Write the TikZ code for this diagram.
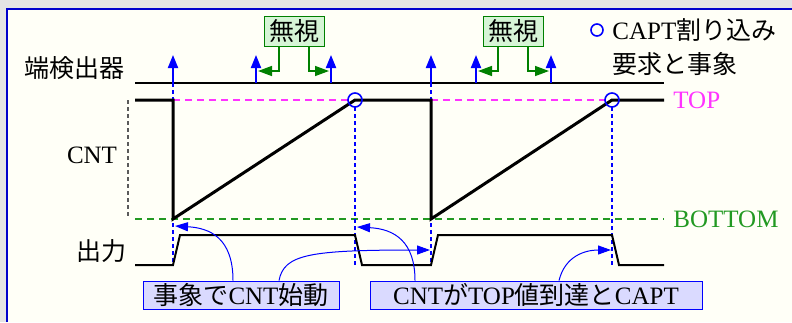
\documentclass[tikz,border=0pt]{standalone}
\usepackage{fontspec}
\setmainfont{Liberation Serif}
\newfontfamily\jp{Noto Sans CJK JP}
\usetikzlibrary{arrows.meta, positioning}
\usepackage{xcolor}
\definecolor{framegray}{RGB}{228,228,228}
\definecolor{panelcream}{RGB}{255,255,247}
\definecolor{frameblue}{RGB}{0,0,204}
\definecolor{edgeblue}{RGB}{0,0,255}
\definecolor{ignoregreen}{RGB}{0,128,0}
\definecolor{ignorefill}{RGB}{214,245,214}
\definecolor{topmagenta}{RGB}{255,51,255}
\definecolor{bottomgreen}{RGB}{34,153,34}
\definecolor{notefill}{RGB}{218,218,255}
\definecolor{axisgray}{RGB}{90,90,90}

\begin{document}
\begin{tikzpicture}[x=0.5pt, y=-0.5pt, font=\fontsize{12.5}{15}\selectfont,
    edgearrow/.style={edgeblue, line width=1pt, -{Triangle[length=6.5pt, width=5pt]}},
    ignorearrow/.style={ignoregreen, line width=0.75pt, -{Triangle[length=7pt, width=5pt]}},
    notearrow/.style={edgeblue, line width=0.5pt, -{Triangle[length=6.5pt, width=4.5pt]}},
    marker/.style={edgeblue, line width=0.6pt, dash pattern=on 2pt off 1.5pt},
    ignorebox/.style={draw=ignoregreen, fill=ignorefill, inner sep=0pt, minimum width=30pt, minimum height=15pt},
    notebox/.style={draw=edgeblue, fill=notefill, inner sep=0pt, minimum height=14pt}]
    \useasboundingbox (0,0) rectangle (792,322);
    \fill[framegray] (0,0) rectangle (792,322);
    \fill[panelcream] (7,9) rectangle (792,322);
    \draw[frameblue, line width=1pt] (7,322) -- (7,9) -- (792,9);

    % row labels
    \node (edgelbl) at (75,68) {\jp 端検出器};
    \node (cntlbl) at (92,155) {CNT};
    \node (outlbl) at (101,251) {\jp 出力};
    \node[topmagenta, anchor=west, inner sep=0pt] (toplbl) at (673,100) {TOP};
    \node[bottomgreen, anchor=west, inner sep=0pt] (bottomlbl) at (673,219) {BOTTOM};

    % legend
    \draw[edgeblue, line width=0.8pt] (597,30) circle[radius=3pt];
    \node[anchor=west, inner sep=0pt] (leg1) at (612,30) {CAPT{\jp 割り込み}};
    \node[anchor=west, inner sep=0pt] (leg2) at (leg1.west |- 0,64) {\jp 要求と事象};

    % edge detector
    \draw[line width=0.75pt] (135,83) -- (664,83);
    \foreach \x [count=\i] in {173,256,331,431,476,551} {
        \coordinate (eb\i) at (\x,83);
        \coordinate (et\i) at (\x,55);
        \draw[edgearrow] (eb\i) -- (et\i);
    }
    \node[ignorebox] (ign1) at (294,31) {\jp 無視};
    \node[ignorebox] (ign2) at (513,31) {\jp 無視};
    \draw[ignorearrow] ([xshift=-7.5pt]ign1.south) |- ([xshift=1pt]eb2 |- 0,71);
    \draw[ignorearrow] ([xshift=7.5pt]ign1.south) |- ([xshift=-1pt]eb3 |- 0,71);
    \draw[ignorearrow] ([xshift=-7.5pt]ign2.south) |- ([xshift=1pt]eb5 |- 0,71);
    \draw[ignorearrow] ([xshift=7.5pt]ign2.south) |- ([xshift=-1pt]eb6 |- 0,71);

    % guide lines
    \draw[axisgray, line width=0.6pt, dash pattern=on 2pt off 1.5pt] (128,100) -- (128,219);
    \draw[topmagenta, line width=0.75pt, dash pattern=on 3.5pt off 2.5pt] (173,100) -- (348,100);
    \draw[topmagenta, line width=0.75pt, dash pattern=on 3.5pt off 2.5pt] (431,100) -- (605,100);
    \draw[bottomgreen, line width=1pt, dash pattern=on 3.5pt off 2.5pt] (135,219) -- (664,219);
    \draw[marker] (eb1) -- (173,266);
    \draw[marker] (355,107) -- (355,266);
    \draw[marker] (eb4) -- (431,266);
    \draw[marker] (612,107) -- (612,266);

    % CNT
    \draw[line width=1.5pt] (135,100) -- (173,100) -- (173,219) -- (355,100) -- (431,100)
        -- (431,219) -- (612,100) -- (664,100);
    \draw[edgeblue, line width=0.8pt] (355,100) circle[radius=3.5pt];
    \draw[edgeblue, line width=0.8pt] (612,100) circle[radius=3.5pt];

    % output
    \draw[line width=1pt] (135,265) -- (173,265) -- (180,235) -- (355,235) -- (362,265)
        -- (431,265) -- (438,235) -- (612,235) -- (619,265) -- (664,265);

    % notes
    \node[notebox, minimum width=98pt] (note1) at (241,295) {{\jp 事象で}CNT{\jp 始動}};
    \node[notebox, minimum width=166pt] (note2) at (536,295) {CNT{\jp が}TOP{\jp 値到達と}CAPT\hspace{4pt}};
    \coordinate (cntstart1) at (175,226);
    \coordinate (outrise2) at (430,250);
    \coordinate (captcnt1) at (357,227);
    \coordinate (captout2) at (611,250);
    \draw[notearrow] ([xshift=-4pt]note1.north) .. controls (233,238) and (210,228) .. (cntstart1);
    \draw[notearrow] ([xshift=19pt]note1.north) .. controls (284,254) and (310,250) .. (outrise2);
    \draw[notearrow] ([xshift=-60.5pt]note2.north) .. controls (415,242) and (395,229) .. (captcnt1);
    \draw[notearrow] ([xshift=11.5pt]note2.north) .. controls (565,256) and (585,250) .. (captout2);
\end{tikzpicture}
\end{document}
